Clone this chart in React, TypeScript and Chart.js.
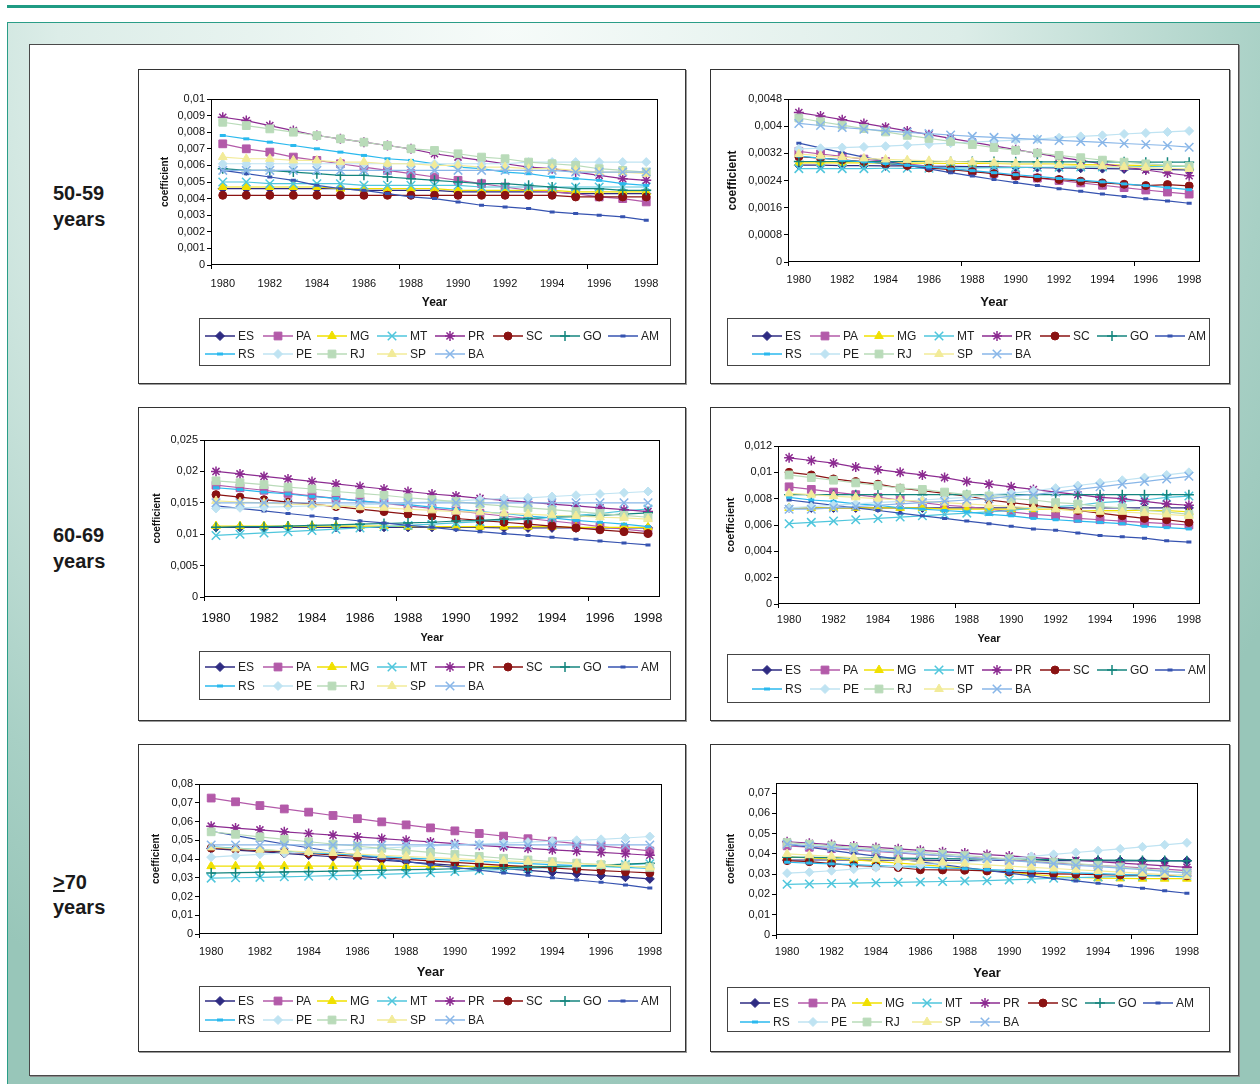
import React, { useEffect, useRef } from 'react';
import { Chart, registerables } from 'chart.js';
import { drawPoint } from 'chart.js/helpers';

Chart.register(...registerables);

const FONT = "'Liberation Sans', Arial, sans-serif";
Chart.defaults.font.family = FONT;

const years = ['1980', '1981', '1982', '1983', '1984', '1985', '1986', '1987', '1988', '1989', '1990', '1991', '1992', '1993', '1994', '1995', '1996', '1997', '1998'];
const seriesNames = ['ES', 'PA', 'MG', 'MT', 'PR', 'SC', 'GO', 'AM', 'RS', 'PE', 'RJ', 'SP', 'BA'];
const rowLabels = ['50-59', '60-69', '70'];

// ---- 50-59 years, left panel ----
const a1ES = [.0046, .0046, .0046, .0046, .0046, .0046, .0045, .0045, .0045, .0045, .0044, .0044, .0044, .0044, .0044, .0043, .0043, .0043, .0043];
const a1PA = [.0073, .0070, .0068, .0065, .0063, .0061, .0059, .0057, .0055, .0053, .0051, .0049, .0047, .0045, .0044, .0043, .0041, .0040, .0038];
const a1MG = [.0047, .0047, .0047, .0047, .0047, .0046, .0046, .0046, .0046, .0046, .0045, .0045, .0045, .0045, .0045, .0044, .0044, .0044, .0044];
const a1MT = [.0050, .0050, .0049, .0049, .0049, .0049, .0048, .0048, .0048, .0048, .0048, .0047, .0047, .0047, .0047, .0047, .0047, .0047, .0047];
const a1PR = [.0089, .0087, .0084, .0081, .0078, .0076, .0074, .0072, .0070, .0067, .0065, .0063, .0061, .0059, .0058, .0056, .0054, .0052, .0051];
const a1SC = [.0042, .0042, .0042, .0042, .0042, .0042, .0042, .0042, .0042, .0042, .0042, .0042, .0042, .0042, .0042, .0041, .0041, .0041, .0041];
const a1GO = [.0058, .0057, .0057, .0056, .0055, .0054, .0054, .0053, .0052, .0051, .0050, .0049, .0049, .0048, .0047, .0046, .0046, .0045, .0045];
const a1AM = [.0057, .0055, .0053, .0051, .0048, .0046, .0045, .0043, .0041, .0040, .0038, .0036, .0035, .0034, .0032, .0031, .0030, .0029, .0027];
const a1RS = [.0078, .0076, .0074, .0072, .0070, .0068, .0066, .0064, .0063, .0061, .0059, .0058, .0056, .0055, .0053, .0052, .0051, .0049, .0048];
const a1PE = [.0061, .0061, .0061, .0061, .0061, .0061, .0061, .0061, .0061, .0061, .0061, .0061, .0061, .0062, .0062, .0062, .0062, .0062, .0062];
const a1RJ = [.0086, .0084, .0082, .0080, .0078, .0076, .0074, .0072, .0070, .0069, .0067, .0065, .0064, .0062, .0061, .0060, .0058, .0057, .0056];
const a1SP = [.0065, .0064, .0064, .0063, .0063, .0062, .0062, .0061, .0061, .0060, .0060, .0059, .0059, .0058, .0058, .0057, .0056, .0056, .0055];
const a1BA = [.0057, .0057, .0057, .0057, .0057, .0057, .0057, .0057, .0057, .0057, .0057, .0057, .0057, .0057, .0057, .0056, .0056, .0056, .0056];

// ---- 50-59 years, right panel ----
const b1ES = [.00285, .00285, .00284, .00284, .00283, .00283, .00282, .00282, .00281, .00280, .00279, .00278, .00277, .00276, .00275, .00274, .00273, .00272, .00271];
const b1PA = [.00326, .00318, .00311, .00303, .00296, .00289, .00282, .00275, .00268, .00261, .00254, .00247, .00240, .00233, .00226, .00219, .00212, .00206, .00200];
const b1MG = [.00292, .00292, .00292, .00292, .00291, .00291, .00291, .00290, .00290, .00290, .00289, .00289, .00288, .00287, .00286, .00285, .00284, .00283, .00282];
const b1MT = [.00275, .00275, .00275, .00275, .00276, .00276, .00276, .00277, .00277, .00278, .00278, .00279, .00279, .00280, .00280, .00281, .00281, .00282, .00282];
const b1PR = [.00440, .00430, .00419, .00408, .00397, .00386, .00375, .00364, .00353, .00342, .00331, .00320, .00309, .00299, .00289, .00280, .00271, .00262, .00254];
const b1SC = [.00310, .00306, .00301, .00296, .00290, .00284, .00277, .00272, .00266, .00260, .00253, .00248, .00243, .00238, .00233, .00229, .00225, .00228, .00224];
const b1GO = [.00296, .00296, .00296, .00296, .00296, .00296, .00296, .00296, .00296, .00296, .00295, .00295, .00295, .00295, .00295, .00295, .00294, .00294, .00294];
const b1AM = [.00350, .00336, .00322, .00309, .00297, .00285, .00274, .00263, .00253, .00243, .00234, .00225, .00216, .00208, .00200, .00193, .00186, .00180, .00173];
const b1RS = [.00312, .00306, .00300, .00295, .00290, .00285, .00280, .00274, .00269, .00263, .00257, .00252, .00246, .00241, .00236, .00230, .00225, .00219, .00213];
const b1PE = [.00333, .00335, .00337, .00339, .00341, .00344, .00347, .00350, .00353, .00356, .00359, .00362, .00366, .00370, .00373, .00377, .00380, .00383, .00386];
const b1RJ = [.00424, .00413, .00403, .00393, .00383, .00373, .00364, .00355, .00346, .00337, .00329, .00321, .00314, .00307, .00300, .00294, .00289, .00285, .00282];
const b1SP = [.00318, .00313, .00309, .00305, .00302, .00300, .00298, .00296, .00294, .00292, .00290, .00288, .00286, .00284, .00282, .00280, .00278, .00276, .00274];
const b1BA = [.00408, .00402, .00396, .00391, .00386, .00382, .00378, .00374, .00370, .00367, .00364, .00361, .00358, .00355, .00352, .00349, .00346, .00343, .00338];

// ---- 60-69 years, left panel ----
const a2ES = [.0111, .0111, .0111, .0111, .0111, .0111, .0111, .0111, .0111, .0111, .0111, .0111, .0110, .0110, .0110, .0110, .0110, .0110, .0110];
const a2PA = [.0178, .0174, .0170, .0165, .0161, .0157, .0153, .0149, .0145, .0141, .0137, .0133, .0129, .0125, .0121, .0117, .0112, .0108, .0104];
const a2MG = [.0113, .0113, .0113, .0113, .0113, .0113, .0113, .0113, .0112, .0112, .0112, .0112, .0112, .0112, .0112, .0111, .0111, .0111, .0111];
const a2MT = [.0098, .0100, .0102, .0104, .0106, .0108, .0110, .0112, .0114, .0116, .0118, .0120, .0122, .0124, .0127, .0130, .0133, .0137, .0140];
const a2PR = [.0200, .0196, .0192, .0188, .0184, .0180, .0176, .0172, .0168, .0164, .0161, .0157, .0154, .0151, .0148, .0145, .0142, .0139, .0136];
const a2SC = [.0163, .0159, .0155, .0151, .0148, .0144, .0140, .0136, .0132, .0129, .0125, .0122, .0119, .0116, .0113, .0110, .0107, .0104, .0101];
const a2GO = [.0111, .0112, .0112, .0113, .0114, .0115, .0116, .0117, .0118, .0119, .0121, .0122, .0124, .0125, .0127, .0128, .0130, .0132, .0134];
const a2AM = [.0145, .0141, .0137, .0133, .0129, .0125, .0121, .0118, .0114, .0111, .0107, .0104, .0101, .0098, .0095, .0092, .0089, .0086, .0083];
const a2RS = [.0174, .0171, .0167, .0164, .0160, .0157, .0153, .0150, .0147, .0143, .0140, .0136, .0133, .0129, .0126, .0122, .0119, .0116, .0112];
const a2PE = [.0141, .0142, .0143, .0144, .0145, .0146, .0147, .0148, .0150, .0151, .0153, .0155, .0157, .0158, .0160, .0162, .0164, .0166, .0168];
const a2RJ = [.0185, .0182, .0179, .0175, .0172, .0168, .0165, .0162, .0158, .0155, .0152, .0148, .0145, .0142, .0139, .0136, .0133, .0130, .0127];
const a2SP = [.0153, .0151, .0150, .0148, .0147, .0145, .0143, .0142, .0140, .0138, .0136, .0135, .0133, .0132, .0130, .0129, .0127, .0126, .0124];
const a2BA = [.0150, .0150, .0150, .0150, .0150, .0150, .0150, .0150, .0150, .0150, .0150, .0150, .0150, .0150, .0150, .0150, .0150, .0150, .0150];

// ---- 60-69 years, right panel ----
const b2ES = [.0073, .0073, .0073, .0073, .0073, .0073, .0073, .0073, .0073, .0073, .0073, .0073, .0073, .0073, .0073, .0073, .0073, .0073, .0073];
const b2PA = [.0089, .0087, .0085, .0083, .0081, .0079, .0077, .0075, .0074, .0072, .0070, .0068, .0067, .0065, .0064, .0063, .0062, .0061, .0060];
const b2MG = [.0073, .0073, .0073, .0073, .0073, .0073, .0073, .0072, .0072, .0072, .0072, .0072, .0072, .0071, .0071, .0071, .0071, .0071, .0070];
const b2MT = [.0061, .0062, .0063, .0064, .0065, .0066, .0067, .0068, .0069, .0070, .0071, .0073, .0074, .0075, .0077, .0078, .0079, .0081, .0082];
const b2PR = [.0111, .0109, .0107, .0104, .0102, .0100, .0098, .0096, .0093, .0091, .0089, .0087, .0085, .0083, .0081, .0080, .0078, .0076, .0075];
const b2SC = [.0100, .0098, .0095, .0093, .0091, .0088, .0086, .0084, .0082, .0079, .0077, .0075, .0073, .0071, .0069, .0067, .0065, .0064, .0062];
const b2GO = [.0083, .0083, .0083, .0083, .0083, .0083, .0083, .0083, .0083, .0083, .0083, .0083, .0083, .0083, .0083, .0083, .0083, .0083, .0083];
const b2AM = [.0079, .0077, .0075, .0073, .0071, .0069, .0067, .0065, .0063, .0061, .0059, .0057, .0056, .0054, .0052, .0051, .0050, .0048, .0047];
const b2RS = [.0081, .0079, .0078, .0076, .0075, .0073, .0072, .0071, .0070, .0068, .0067, .0065, .0064, .0063, .0062, .0061, .0059, .0058, .0057];
const b2PE = [.0073, .0074, .0075, .0076, .0077, .0078, .0079, .0080, .0081, .0083, .0084, .0086, .0088, .0090, .0092, .0094, .0096, .0098, .0100];
const b2RJ = [.0098, .0096, .0094, .0092, .0090, .0088, .0087, .0085, .0083, .0082, .0080, .0079, .0077, .0076, .0074, .0073, .0071, .0070, .0068];
const b2SP = [.0084, .0083, .0082, .0081, .0080, .0079, .0078, .0077, .0076, .0075, .0074, .0073, .0072, .0071, .0070, .0070, .0069, .0068, .0067];
const b2BA = [.0072, .0072, .0073, .0074, .0075, .0076, .0077, .0078, .0079, .0080, .0082, .0083, .0085, .0087, .0089, .0091, .0093, .0095, .0097];

// ---- >=70 years, left panel ----
const a3ES = [.0455, .0447, .0439, .0430, .0421, .0412, .0403, .0394, .0385, .0375, .0366, .0357, .0348, .0339, .0330, .0321, .0312, .0303, .0294];
const a3PA = [.0725, .0705, .0685, .0667, .0650, .0632, .0615, .0598, .0582, .0566, .0550, .0536, .0522, .0508, .0495, .0482, .0470, .0457, .0443];
const a3MG = [.0362, .0362, .0362, .0362, .0362, .0362, .0362, .0362, .0361, .0361, .0361, .0361, .0361, .0361, .0360, .0360, .0360, .0360, .0360];
const a3MT = [.0298, .0300, .0302, .0305, .0308, .0311, .0314, .0318, .0322, .0327, .0333, .0339, .0345, .0350, .0355, .0360, .0365, .0370, .0375];
const a3PR = [.0575, .0565, .0555, .0545, .0536, .0527, .0518, .0509, .0500, .0491, .0482, .0473, .0465, .0457, .0449, .0442, .0435, .0428, .0420];
const a3SC = [.0458, .0452, .0445, .0438, .0430, .0422, .0414, .0406, .0398, .0390, .0382, .0374, .0366, .0359, .0352, .0345, .0338, .0332, .0326];
const a3GO = [.0325, .0327, .0329, .0331, .0333, .0335, .0338, .0340, .0343, .0345, .0348, .0351, .0354, .0357, .0361, .0364, .0368, .0373, .0378];
const a3AM = [.0548, .0525, .0502, .0480, .0460, .0440, .0421, .0403, .0386, .0370, .0355, .0340, .0326, .0313, .0300, .0288, .0276, .0262, .0245];
const a3RS = [.0465, .0458, .0450, .0442, .0434, .0427, .0420, .0413, .0406, .0399, .0393, .0387, .0381, .0375, .0370, .0365, .0360, .0355, .0350];
const a3PE = [.0410, .0418, .0425, .0432, .0439, .0445, .0452, .0458, .0464, .0470, .0475, .0480, .0485, .0490, .0495, .0500, .0505, .0512, .0520];
const a3RJ = [.0545, .0532, .0518, .0505, .0492, .0480, .0468, .0457, .0446, .0435, .0424, .0414, .0404, .0395, .0386, .0378, .0370, .0362, .0355];
const a3SP = [.0462, .0456, .0450, .0444, .0438, .0432, .0426, .0420, .0414, .0408, .0402, .0396, .0390, .0385, .0380, .0375, .0370, .0362, .0355];
const a3BA = [.0475, .0475, .0475, .0475, .0475, .0475, .0475, .0475, .0475, .0475, .0475, .0475, .0475, .0475, .0475, .0475, .0475, .0475, .0475];

// ---- >=70 years, right panel ----
const b3ES = [.0370, .0370, .0370, .0369, .0369, .0369, .0369, .0368, .0368, .0368, .0368, .0367, .0367, .0367, .0367, .0366, .0366, .0366, .0366];
const b3PA = [.0440, .0433, .0426, .0419, .0412, .0405, .0398, .0391, .0384, .0377, .0370, .0363, .0356, .0349, .0343, .0337, .0331, .0325, .0318];
const b3MG = [.0385, .0380, .0375, .0370, .0363, .0355, .0347, .0339, .0330, .0320, .0310, .0300, .0290, .0285, .0280, .0279, .0278, .0278, .0278];
const b3MT = [.0250, .0252, .0254, .0256, .0258, .0260, .0262, .0264, .0266, .0268, .0272, .0276, .0280, .0283, .0286, .0289, .0291, .0293, .0295];
const b3PR = [.0460, .0453, .0446, .0439, .0432, .0425, .0418, .0411, .0404, .0397, .0390, .0383, .0376, .0369, .0362, .0355, .0348, .0341, .0334];
const b3SC = [.0367, .0362, .0352, .0343, .0338, .0333, .0322, .0321, .0320, .0316, .0311, .0306, .0302, .0300, .0298, .0296, .0294, .0293, .0292];
const b3GO = [.0384, .0383, .0382, .0381, .0380, .0379, .0378, .0377, .0376, .0375, .0374, .0373, .0372, .0371, .0370, .0369, .0368, .0367, .0366];
const b3AM = [.0448, .0433, .0418, .0403, .0389, .0375, .0361, .0347, .0333, .0319, .0305, .0292, .0279, .0267, .0255, .0243, .0231, .0218, .0206];
const b3RS = [.0359, .0355, .0351, .0347, .0343, .0339, .0335, .0331, .0327, .0323, .0319, .0315, .0311, .0307, .0303, .0299, .0295, .0291, .0287];
const b3PE = [.0305, .0310, .0317, .0325, .0332, .0339, .0346, .0353, .0360, .0368, .0378, .0388, .0398, .0407, .0416, .0425, .0435, .0445, .0455];
const b3RJ = [.0456, .0448, .0440, .0432, .0424, .0416, .0408, .0400, .0392, .0384, .0376, .0368, .0360, .0352, .0344, .0335, .0326, .0317, .0308];
const b3SP = [.0400, .0394, .0388, .0382, .0376, .0370, .0364, .0358, .0352, .0346, .0340, .0334, .0328, .0322, .0316, .0310, .0304, .0298, .0292];
const b3BA = [.0448, .0440, .0432, .0424, .0416, .0408, .0400, .0392, .0384, .0376, .0368, .0360, .0352, .0344, .0337, .0330, .0322, .0314, .0306];

// y-axis ranges (max, step) per panel
const yMaxes = [0.01, 0.0048, 0.025, 0.012, 0.08, 0.075];
const ySteps = [0.001, 0.0008, 0.005, 0.002, 0.01, 0.01];

// series visual styles
const seriesStyles = [
  { color: '#2e2b82', shape: 'rectRot', r: 4.5, bw: 1 },
  { color: '#b35aa9', shape: 'rect', r: 5.5, bw: 1 },
  { color: '#f0e000', shape: 'triangle', r: 5, bw: 1 },
  { color: '#4fc6dc', shape: 'crossRot', r: 6, bw: 1.5 },
  { color: '#8c2b91', shape: 'star', r: 5, bw: 1.5 },
  { color: '#8a1212', shape: 'circle', r: 4, bw: 1 },
  { color: '#14857e', shape: 'cross', r: 5, bw: 1.5 },
  { color: '#3653b0', shape: 'line', r: 2.5, bw: 3 },
  { color: '#2ab9ee', shape: 'line', r: 3, bw: 3 },
  { color: '#bfe3f2', shape: 'rectRot', r: 4.5, bw: 1 },
  { color: '#b9dbb9', shape: 'rect', r: 5.5, bw: 1 },
  { color: '#f2eb99', shape: 'triangle', r: 5, bw: 1 },
  { color: '#88b6e8', shape: 'crossRot', r: 6, bw: 1.5 },
];

const legendCols = [0, 58, 112, 172, 230, 288, 345, 403];

type Rect = { x: number; y: number; w: number; h: number };
type Spec = {
  values: number[][];
  yMax: number;
  yStep: number;
  box: Rect;
  plot: { l: number; t: number; r: number; b: number };
  legend: Rect;
  legendStart: number;
  legendRows: number[];
  xLabelOff: number;
  xFont: number;
  yFont: number;
  yearY: number;
  yearFont: number;
  coefX: number;
  coefFont: number;
};

const specs: Spec[] = [
  {
    values: [a1ES, a1PA, a1MG, a1MT, a1PR, a1SC, a1GO, a1AM, a1RS, a1PE, a1RJ, a1SP, a1BA],
    yMax: yMaxes[0], yStep: ySteps[0],
    box: { x: 138, y: 69, w: 548, h: 315 },
    plot: { l: 211, t: 99, r: 658, b: 265 },
    legend: { x: 199, y: 318, w: 472, h: 48 }, legendStart: 6, legendRows: [18, 36],
    xLabelOff: 19, xFont: 11, yFont: 11, yearY: 303, yearFont: 12, coefX: 165, coefFont: 10,
  },
  {
    values: [b1ES, b1PA, b1MG, b1MT, b1PR, b1SC, b1GO, b1AM, b1RS, b1PE, b1RJ, b1SP, b1BA],
    yMax: yMaxes[1], yStep: ySteps[1],
    box: { x: 710, y: 69, w: 520, h: 315 },
    plot: { l: 788, t: 99, r: 1200, b: 262 },
    legend: { x: 727, y: 318, w: 483, h: 48 }, legendStart: 25, legendRows: [18, 36],
    xLabelOff: 18, xFont: 11, yFont: 11, yearY: 302, yearFont: 13, coefX: 733, coefFont: 12,
  },
  {
    values: [a2ES, a2PA, a2MG, a2MT, a2PR, a2SC, a2GO, a2AM, a2RS, a2PE, a2RJ, a2SP, a2BA],
    yMax: yMaxes[2], yStep: ySteps[2],
    box: { x: 138, y: 407, w: 548, h: 314 },
    plot: { l: 204, t: 440, r: 660, b: 597 },
    legend: { x: 199, y: 651, w: 472, h: 49 }, legendStart: 6, legendRows: [16, 35],
    xLabelOff: 21, xFont: 13, yFont: 11, yearY: 638, yearFont: 11, coefX: 157, coefFont: 10,
  },
  {
    values: [b2ES, b2PA, b2MG, b2MT, b2PR, b2SC, b2GO, b2AM, b2RS, b2PE, b2RJ, b2SP, b2BA],
    yMax: yMaxes[3], yStep: ySteps[3],
    box: { x: 710, y: 407, w: 520, h: 314 },
    plot: { l: 778, t: 446, r: 1200, b: 604 },
    legend: { x: 727, y: 654, w: 483, h: 49 }, legendStart: 25, legendRows: [16, 35],
    xLabelOff: 16, xFont: 11, yFont: 11, yearY: 639, yearFont: 11, coefX: 731, coefFont: 11,
  },
  {
    values: [a3ES, a3PA, a3MG, a3MT, a3PR, a3SC, a3GO, a3AM, a3RS, a3PE, a3RJ, a3SP, a3BA],
    yMax: yMaxes[4], yStep: ySteps[4],
    box: { x: 138, y: 744, w: 548, h: 308 },
    plot: { l: 199, t: 784, r: 662, b: 934 },
    legend: { x: 199, y: 986, w: 472, h: 46 }, legendStart: 6, legendRows: [15, 34],
    xLabelOff: 18, xFont: 11, yFont: 11, yearY: 972, yearFont: 13, coefX: 156, coefFont: 10,
  },
  {
    values: [b3ES, b3PA, b3MG, b3MT, b3PR, b3SC, b3GO, b3AM, b3RS, b3PE, b3RJ, b3SP, b3BA],
    yMax: yMaxes[5], yStep: ySteps[5],
    box: { x: 710, y: 744, w: 520, h: 308 },
    plot: { l: 776, t: 783, r: 1198, b: 935 },
    legend: { x: 727, y: 987, w: 483, h: 45 }, legendStart: 13, legendRows: [16, 35],
    xLabelOff: 17, xFont: 11, yFont: 11, yearY: 973, yearFont: 13, coefX: 731, coefFont: 10,
  },
];

function fmt(v: number) {
  const s = parseFloat(Number(v).toFixed(6)).toString();
  return s.replace('.', ',');
}

function Panel({ spec }: { spec: Spec }) {
  const ref = useRef<HTMLCanvasElement | null>(null);
  const cw = spec.box.w - 2;
  const ch = spec.box.h - 2;
  useEffect(() => {
    const ox = spec.box.x + 1;
    const oy = spec.box.y + 1;
    const plotL = spec.plot.l - ox;
    const plotT = spec.plot.t - oy;
    const plotR = spec.plot.r - ox;
    const plotB = spec.plot.b - oy;
    const lg = { x: spec.legend.x - ox, y: spec.legend.y - oy, w: spec.legend.w, h: spec.legend.h };

    const decor = {
      id: 'decor',
      beforeDatasetsDraw(chart: any) {
        const { left, top, right, bottom } = chart.chartArea;
        const ctx = chart.ctx;
        ctx.save();
        ctx.strokeStyle = '#000';
        ctx.lineWidth = 1;
        ctx.strokeRect(Math.round(left) + 0.5, Math.round(top) + 0.5, Math.round(right - left) - 1, Math.round(bottom - top) - 1);
        ctx.restore();
      },
      afterDraw(chart: any) {
        const ctx = chart.ctx;
        ctx.save();
        ctx.strokeStyle = '#444';
        ctx.lineWidth = 1;
        ctx.strokeRect(lg.x + 0.5, lg.y + 0.5, lg.w - 1, lg.h - 1);
        chart.data.datasets.forEach((ds: any, i: number) => {
          const col = i % 8;
          const row = Math.floor(i / 8);
          const x0 = lg.x + spec.legendStart + legendCols[col];
          const y = lg.y + spec.legendRows[row];
          ctx.strokeStyle = ds.borderColor;
          ctx.lineWidth = 1.5;
          ctx.beginPath();
          ctx.moveTo(x0, y);
          ctx.lineTo(x0 + 30, y);
          ctx.stroke();
          ctx.fillStyle = ds.pointBackgroundColor;
          ctx.strokeStyle = ds.pointBorderColor;
          ctx.lineWidth = ds.pointBorderWidth;
          drawPoint(ctx, { pointStyle: ds.pointStyle, rotation: 0, radius: ds.pointRadius, borderWidth: ds.pointBorderWidth }, x0 + 15, y);
          ctx.fillStyle = '#222';
          ctx.font = `12px ${FONT}`;
          ctx.textBaseline = 'middle';
          ctx.textAlign = 'left';
          ctx.fillText(seriesNames[i], x0 + 33, y + 0.5);
        });
        ctx.restore();
      },
    };

    const xTitleLine = spec.yearFont * 1.2;
    const yTitleLine = spec.coefFont * 1.2;

    const chart = new Chart(ref.current as HTMLCanvasElement, {
      type: 'line',
      data: {
        labels: years,
        datasets: spec.values.map((vals, i) => ({
          label: seriesNames[i],
          data: vals,
          borderColor: seriesStyles[i].color,
          backgroundColor: seriesStyles[i].color,
          pointBackgroundColor: seriesStyles[i].color,
          pointBorderColor: seriesStyles[i].color,
          pointStyle: seriesStyles[i].shape as any,
          pointRadius: seriesStyles[i].r,
          pointHoverRadius: seriesStyles[i].r,
          pointBorderWidth: seriesStyles[i].bw,
          borderWidth: 1.2,
          tension: 0,
          fill: false,
          order: 20 - i,
        })),
      },
      options: {
        responsive: false,
        animation: false,
        events: [],
        layout: { padding: { left: 0, top: plotT, right: cw - plotR, bottom: 0 } },
        plugins: { legend: { display: false }, tooltip: { enabled: false } },
        scales: {
          x: {
            type: 'category',
            offset: true,
            afterFit: (s: any) => { s.height = ch - plotB; },
            border: { display: false },
            grid: {
              display: true,
              drawOnChartArea: false,
              drawTicks: true,
              tickLength: 4,
              offset: true,
              lineWidth: 1,
              color: (c: any) => (typeof c.index === 'number' && c.index % 8 === 0 ? '#000' : 'rgba(0,0,0,0)'),
            },
            ticks: {
              autoSkip: false,
              maxRotation: 0,
              minRotation: 0,
              padding: spec.xLabelOff - 4 - spec.xFont * 0.6,
              color: '#111',
              font: { size: spec.xFont },
              callback: (_v: any, idx: number) => (idx % 2 === 0 ? years[idx] : ''),
            },
            title: {
              display: true,
              text: 'Year',
              color: '#111',
              font: { size: spec.yearFont, weight: 'bold' },
              padding: { top: 0, bottom: ch - (spec.yearY - oy) - xTitleLine / 2 },
            },
          },
          y: {
            type: 'linear',
            min: 0,
            max: spec.yMax,
            afterFit: (s: any) => { s.width = plotL; },
            border: { display: false },
            grid: { drawOnChartArea: false, drawTicks: true, tickLength: 4, color: '#000', lineWidth: 1 },
            ticks: {
              stepSize: spec.yStep,
              includeBounds: false,
              padding: 2,
              color: '#111',
              font: { size: spec.yFont },
              callback: (v: any) => fmt(Number(v)),
            },
            title: {
              display: true,
              text: 'coefficient',
              color: '#111',
              font: { size: spec.coefFont, weight: 'bold' },
              padding: { top: (spec.coefX - ox) - yTitleLine / 2, bottom: 0 },
            },
          },
        },
      } as any,
      plugins: [decor],
    });
    return () => chart.destroy();
  }, []);
  return (
    <div
      style={{
        position: 'absolute',
        left: spec.box.x,
        top: spec.box.y,
        width: cw,
        height: ch,
        border: '1px solid #333',
        boxShadow: '1px 1px 0 #9a9a9a',
        background: '#fff',
      }}
    >
      <canvas ref={ref} width={cw} height={ch} style={{ display: 'block', width: cw, height: ch }} />
    </div>
  );
}

const labelStyle: React.CSSProperties = {
  position: 'absolute',
  left: 53,
  fontFamily: FONT,
  fontWeight: 'bold',
  fontSize: 20,
  lineHeight: '26px',
  color: '#1a1a1a',
  whiteSpace: 'nowrap',
};

export default function App() {
  return (
    <div style={{ position: 'absolute', left: 0, top: 0, width: 1260, height: 1084, overflow: 'hidden', background: '#fff', fontFamily: FONT }}>
      <div style={{ position: 'absolute', left: 7, top: 5, width: 1253, height: 3, background: '#1f9b83' }} />
      <div
        style={{
          position: 'absolute',
          left: 7,
          top: 22,
          width: 1253,
          height: 1062,
          boxSizing: 'border-box',
          borderTop: '1px solid #2a9d87',
          borderLeft: '1px solid #2a9d87',
          background: 'radial-gradient(ellipse 900px 1100px at 40% 0%, #f6fbf9 0%, #dcede8 50%, #a8d0c5 85%, #98c6b9 100%)',
        }}
      />
      <div
        style={{
          position: 'absolute',
          left: 29,
          top: 44,
          width: 1210,
          height: 1032,
          boxSizing: 'border-box',
          border: '1px solid #4a4a4a',
          boxShadow: '1px 1px 0 #8a8a8a',
          background: '#fff',
        }}
      />
      {specs.map((s, i) => (
        <Panel key={i} spec={s} />
      ))}
      <div style={{ ...labelStyle, top: 180 }}>{rowLabels[0]}<br />years</div>
      <div style={{ ...labelStyle, top: 522 }}>{rowLabels[1]}<br />years</div>
      <div style={{ ...labelStyle, top: 870, lineHeight: '25px' }}>
        <span style={{ textDecoration: 'underline' }}>&gt;</span>{rowLabels[2]}<br />years
      </div>
    </div>
  );
}
